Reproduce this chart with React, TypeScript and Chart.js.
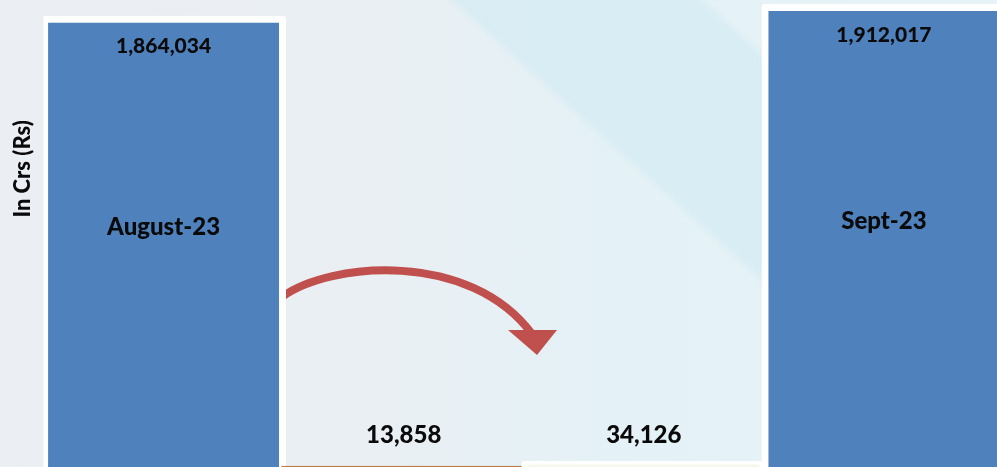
import { useEffect, useRef } from "react";
import { Chart, registerables } from "chart.js";

Chart.register(...registerables);

// ---- data ----
const categories = ["August-23", "", "", "Sept-23"];
const values = [1864034, 13858, 34126, 1912017];
const barColors = ["#4f81bd", "#c6732f", "#f6f8ea", "#4f81bd"];
const barBorderColors = ["#ffffff", "#a95c20", "#ffffff", "#ffffff"];
const yTitle = "In Crs (Rs)";
const yMax = 1928500;

const FONT = "Lato, 'Open Sans', sans-serif";

const arrowPlugin = {
  id: "curvedArrow",
  beforeDatasetsDraw(chart: any) {
    const ctx = chart.ctx as CanvasRenderingContext2D;
    ctx.save();
    ctx.strokeStyle = "#c0504d";
    ctx.fillStyle = "#c0504d";
    ctx.lineWidth = 8;
    ctx.beginPath();
    ctx.moveTo(282, 297);
    ctx.bezierCurveTo(330, 262, 470, 250, 532, 334);
    ctx.stroke();
    ctx.beginPath();
    ctx.moveTo(508, 330);
    ctx.lineTo(557, 330);
    ctx.lineTo(537, 355);
    ctx.closePath();
    ctx.fill();
    ctx.restore();
  },
};

const labelPlugin = {
  id: "barLabels",
  afterDatasetsDraw(chart: any) {
    const ctx = chart.ctx as CanvasRenderingContext2D;
    const meta = chart.getDatasetMeta(0);
    ctx.save();
    ctx.fillStyle = "#0a0a0a";
    ctx.textAlign = "center";
    ctx.textBaseline = "middle";
    meta.data.forEach((bar: any, i: number) => {
      const { x, y, base } = bar.getProps(["x", "y", "base"], true);
      const txt = values[i].toLocaleString("en-US");
      if (categories[i]) {
        ctx.font = `900 21px ${FONT}`;
        ctx.fillText(txt, x, y + 31);
        ctx.font = `900 24px ${FONT}`;
        ctx.fillText(categories[i], x, (y + base) / 2 - 15);
      } else {
        ctx.font = `900 24px ${FONT}`;
        ctx.fillText(txt, x, base - 34);
      }
    });
    // y axis title
    const area = chart.chartArea;
    ctx.translate(area.left - 21, area.top + area.height * 0.36);
    ctx.rotate(-Math.PI / 2);
    ctx.font = `900 22px ${FONT}`;
    ctx.fillText(yTitle, 0, 0);
    ctx.restore();
  },
};

export default function App() {
  const canvasRef = useRef<HTMLCanvasElement | null>(null);

  useEffect(() => {
    const canvas = canvasRef.current;
    if (!canvas) return;
    const chart = new Chart(canvas, {
      type: "bar",
      data: {
        labels: categories,
        datasets: [
          {
            data: values,
            backgroundColor: barColors,
            borderColor: barBorderColors,
            borderWidth: [7, { top: 1, left: 0, right: 0, bottom: 0 }, 7, 7] as any,
            borderSkipped: "start",
            borderRadius: [3, 0, 3, 3] as any,
            barPercentage: 1.02,
            categoryPercentage: 1,
          },
        ],
      },
      options: {
        responsive: false,
        animation: false,
        layout: { padding: { left: 43.5, right: 0, top: 0, bottom: 0 } },
        plugins: {
          legend: { display: false },
          tooltip: { enabled: false },
          title: { display: false },
        },
        scales: {
          x: { display: false },
          y: { display: false, min: 0, max: yMax },
        },
      },
      plugins: [arrowPlugin, labelPlugin],
    });
    return () => chart.destroy();
  }, []);

  return (
    <div
      style={{
        position: "fixed",
        left: 0,
        top: 0,
        width: 997,
        height: 467,
        overflow: "hidden",
        background:
          "linear-gradient(42deg, rgba(0,0,0,0) 0%, rgba(0,0,0,0) 63.5%, rgba(208,234,243,0.6) 64.5%, rgba(208,234,243,0.6) 80%, rgba(0,0,0,0) 81%), linear-gradient(90deg, #ebeef2 0%, #eaeff3 35%, #e4f1f6 60%, #e6f3f7 100%)",
      }}
    >
      <canvas
        ref={canvasRef}
        width={1004}
        height={469}
        style={{ position: "absolute", left: 0, top: 0, display: "block" }}
      />
    </div>
  );
}
